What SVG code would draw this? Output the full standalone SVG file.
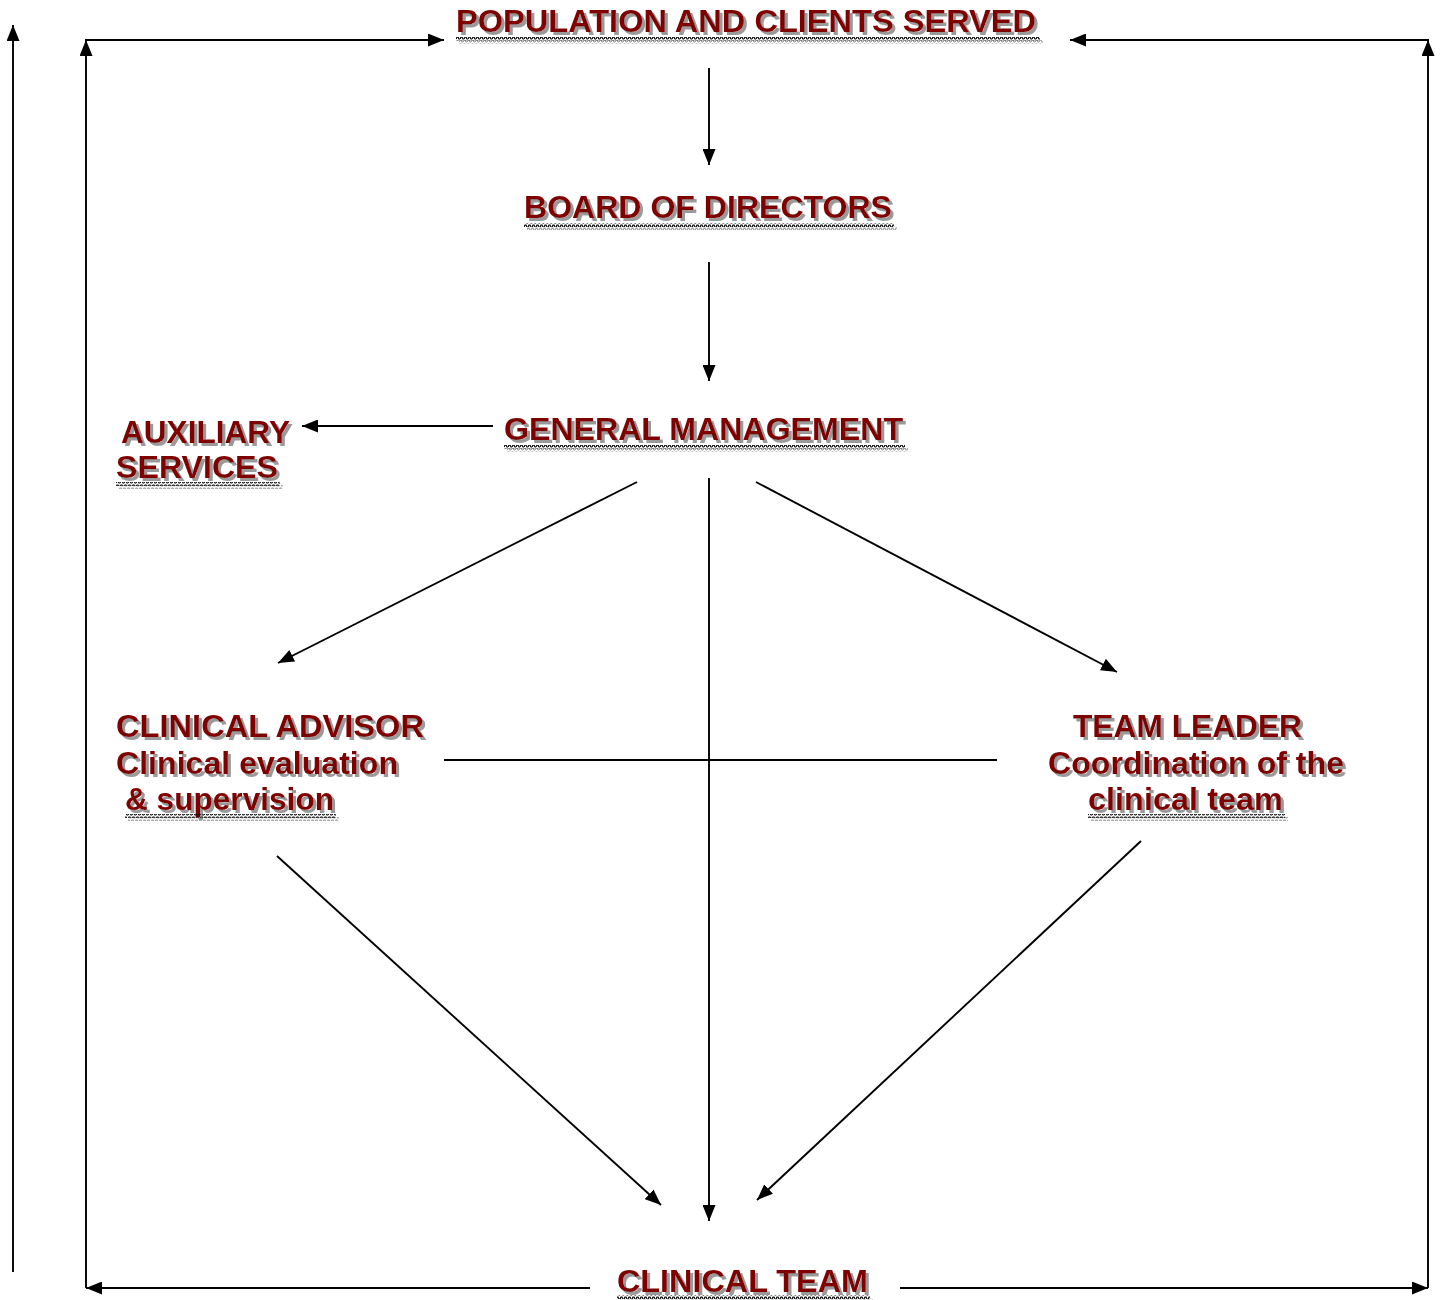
<svg xmlns="http://www.w3.org/2000/svg" width="1442" height="1300" viewBox="0 0 1442 1300">
  <style>
    .lbl { font-family: "Liberation Sans", Arial, sans-serif; font-weight: bold; font-size: 32px; fill: #800000; }
    .wire { stroke: #000; stroke-width: 1.9; fill: none; }
    .arr { marker-end: url(#head); }
    .wave { fill: url(#wavy); }
  </style>
  <defs>
    <marker id="head" markerUnits="userSpaceOnUse" markerWidth="16" markerHeight="13" refX="16" refY="6.5" orient="auto">
      <path d="M0,0 L16,6.5 L0,13 z" fill="#000"/>
    </marker>
    <pattern id="wavy" patternUnits="userSpaceOnUse" width="4" height="4">
      <polyline points="0,3 1,1 2,1 3,3 4,3" fill="none" stroke="#000" stroke-width="1.2"/>
    </pattern>
    <filter id="shadow" x="-5%" y="-20%" width="110%" height="150%">
      <feFlood flood-color="#9a9a9a" result="c"/>
      <feComposite in="c" in2="SourceAlpha" operator="in" result="s"/>
      <feOffset in="s" dx="3" dy="3" result="so"/>
      <feMerge>
        <feMergeNode in="so"/>
        <feMergeNode in="SourceGraphic"/>
      </feMerge>
    </filter>
  </defs>

  <!-- connectors -->
  <g id="connectors">
    <line class="wire arr" x1="13" y1="1272" x2="13" y2="25"/>
    <line class="wire arr" x1="86" y1="1288" x2="86" y2="40"/>
    <line class="wire arr" x1="85" y1="40" x2="444" y2="40"/>
    <line class="wire arr" x1="1429" y1="40" x2="1070" y2="40"/>
    <line class="wire arr" x1="1428" y1="1288" x2="1428" y2="40"/>
    <line class="wire arr" x1="590" y1="1288" x2="86" y2="1288"/>
    <line class="wire arr" x1="900" y1="1288" x2="1428" y2="1288"/>
    <line class="wire arr" x1="709" y1="68" x2="709" y2="165"/>
    <line class="wire arr" x1="709" y1="262" x2="709" y2="381"/>
    <line class="wire arr" x1="493" y1="426" x2="302" y2="426"/>
    <line class="wire arr" x1="637" y1="482" x2="278" y2="663"/>
    <line class="wire arr" x1="756" y1="482" x2="1117" y2="672"/>
    <line class="wire arr" x1="709" y1="478" x2="709" y2="1221"/>
    <line class="wire" x1="444" y1="760" x2="997" y2="760"/>
    <line class="wire arr" x1="277" y1="856" x2="661" y2="1205"/>
    <line class="wire arr" x1="1141" y1="841" x2="757" y2="1200"/>
  </g>

  <!-- nodes -->
  <g id="population" filter="url(#shadow)">
    <text class="lbl" x="456" y="32" textLength="580" lengthAdjust="spacingAndGlyphs">POPULATION AND CLIENTS SERVED</text>
    <rect class="wave" x="456" y="37" width="584" height="4"/>
  </g>
  <g id="board" filter="url(#shadow)">
    <text class="lbl" x="524" y="218" textLength="368" lengthAdjust="spacingAndGlyphs">BOARD OF DIRECTORS</text>
    <rect class="wave" x="524" y="223" width="370" height="4"/>
  </g>
  <g id="general-management" filter="url(#shadow)">
    <text class="lbl" x="504" y="440" textLength="399" lengthAdjust="spacingAndGlyphs">GENERAL MANAGEMENT</text>
    <rect class="wave" x="504" y="445" width="401" height="4"/>
  </g>
  <g id="auxiliary" filter="url(#shadow)">
    <text class="lbl" x="121" y="443" textLength="169" lengthAdjust="spacingAndGlyphs">AUXILIARY</text>
    <text class="lbl" x="116" y="478" textLength="162" lengthAdjust="spacingAndGlyphs">SERVICES</text>
    <rect class="wave" x="116" y="482" width="164" height="4"/>
  </g>
  <g id="clinical-advisor" filter="url(#shadow)">
    <text class="lbl" x="116" y="737" textLength="308" lengthAdjust="spacingAndGlyphs">CLINICAL ADVISOR</text>
    <text class="lbl" x="116" y="774" textLength="282" lengthAdjust="spacingAndGlyphs">Clinical evaluation</text>
    <text class="lbl" x="125" y="810" textLength="209" lengthAdjust="spacingAndGlyphs">&amp; supervision</text>
    <rect class="wave" x="125" y="814" width="211" height="4"/>
  </g>
  <g id="team-leader" filter="url(#shadow)">
    <text class="lbl" x="1073" y="737" textLength="229" lengthAdjust="spacingAndGlyphs">TEAM LEADER</text>
    <text class="lbl" x="1048" y="774" textLength="296" lengthAdjust="spacingAndGlyphs">Coordination of the</text>
    <text class="lbl" x="1088" y="810" textLength="195" lengthAdjust="spacingAndGlyphs">clinical team</text>
    <rect class="wave" x="1088" y="814" width="197" height="4"/>
  </g>
  <g id="clinical-team" filter="url(#shadow)">
    <text class="lbl" x="617" y="1292" textLength="251" lengthAdjust="spacingAndGlyphs">CLINICAL TEAM</text>
    <rect class="wave" x="617" y="1295" width="253" height="4"/>
  </g>
</svg>
